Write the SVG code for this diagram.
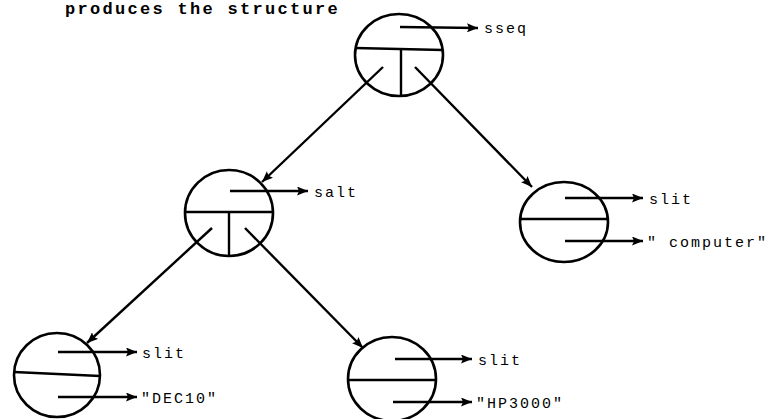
<svg xmlns="http://www.w3.org/2000/svg" width="780" height="419" viewBox="0 0 780 419">
<defs>
<marker id="ah" markerUnits="userSpaceOnUse" markerWidth="12" markerHeight="9" refX="11" refY="4.5" orient="auto">
<path d="M0,0 L11,4.5 L0,9 L2,4.5 z" fill="#000"/>
</marker>
</defs>
<style>
.c{fill:none;stroke:#000;stroke-width:2.6}
.l{fill:none;stroke:#000;stroke-width:2.4}
.a{fill:none;stroke:#000;stroke-width:2.4;marker-end:url(#ah)}
.t{font-family:"Liberation Mono",monospace;font-size:15px;letter-spacing:2px;fill:#000}
.h{font-family:"Liberation Mono",monospace;font-size:17px;font-weight:bold;letter-spacing:2.3px;fill:#000}
</style>
<rect width="780" height="419" fill="#fff"/>
<text class="h" x="65" y="14">produces the structure</text>
<g id="connectors">
<path class="a" d="M383,67 L262,182"/>
<path class="a" d="M415,67 L532,187"/>
<path class="a" d="M212,228 L87,343"/>
<path class="a" d="M245,228 L363,348"/>
</g>
<g id="node-sseq">
<ellipse class="c" cx="399" cy="55" rx="44" ry="41"/>
<path class="l" d="M355,48 L443,50"/>
<path class="l" d="M401,49 L401,95"/>
<path class="a" d="M400,27 L478,28"/>
<text class="t" x="484" y="33">sseq</text>
</g>
<g id="node-salt">
<ellipse class="c" cx="229" cy="213" rx="44" ry="43"/>
<path class="l" d="M185,212 L273,212"/>
<path class="l" d="M229,212 L229,256"/>
<path class="a" d="M230,191 L308,191"/>
<text class="t" x="314" y="197">salt</text>
</g>
<g id="node-computer">
<ellipse class="c" cx="564" cy="222" rx="44" ry="40"/>
<path class="l" d="M520,219 L608,219"/>
<path class="a" d="M565,198 L643,198"/>
<path class="a" d="M565,241 L643,241"/>
<text class="t" x="649" y="204">slit</text>
<text class="t" x="647" y="247">" computer"</text>
</g>
<g id="node-dec10">
<ellipse class="c" cx="57" cy="375" rx="43" ry="42"/>
<path class="l" d="M14,372 L100,376"/>
<path class="a" d="M58,352 L137,352"/>
<path class="a" d="M58,397 L137,397"/>
<text class="t" x="142" y="358">slit</text>
<text class="t" x="141" y="403">"DEC10"</text>
</g>
<g id="node-hp3000">
<ellipse class="c" cx="392" cy="379" rx="44" ry="42"/>
<path class="l" d="M348,380 L437,380"/>
<path class="a" d="M395,359 L472,359"/>
<path class="a" d="M393,402 L472,402"/>
<text class="t" x="478" y="365">slit</text>
<text class="t" x="476" y="408">"HP3000"</text>
</g>
</svg>
